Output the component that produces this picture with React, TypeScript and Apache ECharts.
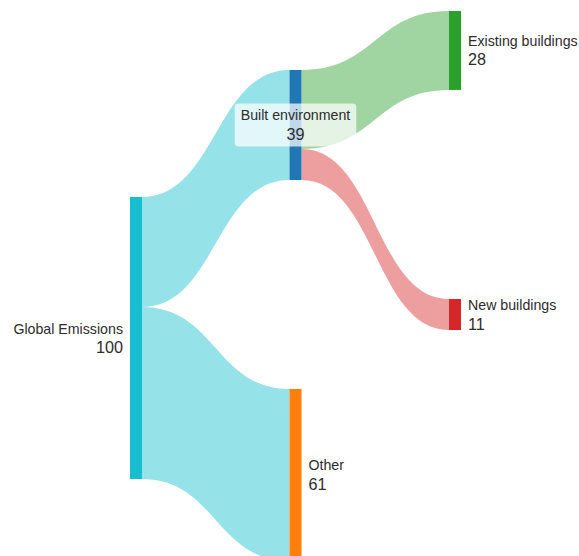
import React, { useEffect, useRef } from "react";
import * as echarts from "echarts";

const nodeNames = ["Global Emissions", "Built environment", "Other", "Existing buildings", "New buildings"];
const nodeColors = ["#17becf", "#1f77b4", "#ff7f0e", "#2ca02c", "#d62728"];
// vertical placement of each node (fraction of layout height)
const nodeLocalY = [0.6414, 0.2034, 1.3034, 0.0, 0.9931];
const labelPositions = ["left", "inside", "right", "right", "right"];

const linkSources = ["Global Emissions", "Global Emissions", "Built environment", "Built environment"];
const linkTargets = ["Built environment", "Other", "Existing buildings", "New buildings"];
const linkValues = [39, 61, 28, 11];
const linkColors = ["#17becf", "#17becf", "#2ca02c", "#d62728"];

const FONT = "'Liberation Sans', Arial, Helvetica, sans-serif";

export default function App() {
  const ref = useRef<HTMLDivElement>(null);
  useEffect(() => {
    if (!ref.current) return;
    const chart = echarts.init(ref.current, undefined, { renderer: "svg" });
    const nodes = nodeNames.map((name, i) => {
      const pos = labelPositions[i];
      const align = pos === "left" ? "right" : pos === "inside" ? "center" : "left";
      const label: any = {
        position: pos,
        distance: 7,
        formatter: "{n|{b}}\n{v|{c}}",
        rich: {
          n: { fontSize: 14.2, lineHeight: 18, color: "#2d2d2d", fontFamily: FONT, align },
          v: { fontSize: 16.2, lineHeight: 19, color: "#2d2d2d", fontFamily: FONT, align },
        },
      };
      if (pos === "inside") {
        label.backgroundColor = "rgba(255,255,255,0.72)";
        label.borderRadius = 4;
        label.padding = [3, 6, 3, 6];
      }
      return {
        name,
        localY: nodeLocalY[i],
        itemStyle: { color: nodeColors[i], borderWidth: 0 },
        label,
      };
    });
    const links = linkSources.map((s, i) => ({
      source: s,
      target: linkTargets[i],
      value: linkValues[i],
      lineStyle: { color: linkColors[i], opacity: 0.45, curveness: 0.5 },
    }));
    chart.setOption({
      animation: false,
      series: [
        {
          type: "sankey",
          left: 130,
          right: 118,
          top: 11,
          height: 290,
          nodeWidth: 12,
          nodeGap: 8,
          nodeAlign: "left",
          layoutIterations: 0,
          draggable: false,
          emphasis: { disabled: true },
          label: { fontFamily: FONT, color: "#2d2d2d" },
          itemStyle: { borderWidth: 0 },
          data: nodes,
          links,
        },
      ],
    });
    return () => chart.dispose();
  }, []);
  return (
    <div
      ref={ref}
      style={{ position: "fixed", left: 0, top: 0, width: 579, height: 556, background: "#fff" }}
    />
  );
}
